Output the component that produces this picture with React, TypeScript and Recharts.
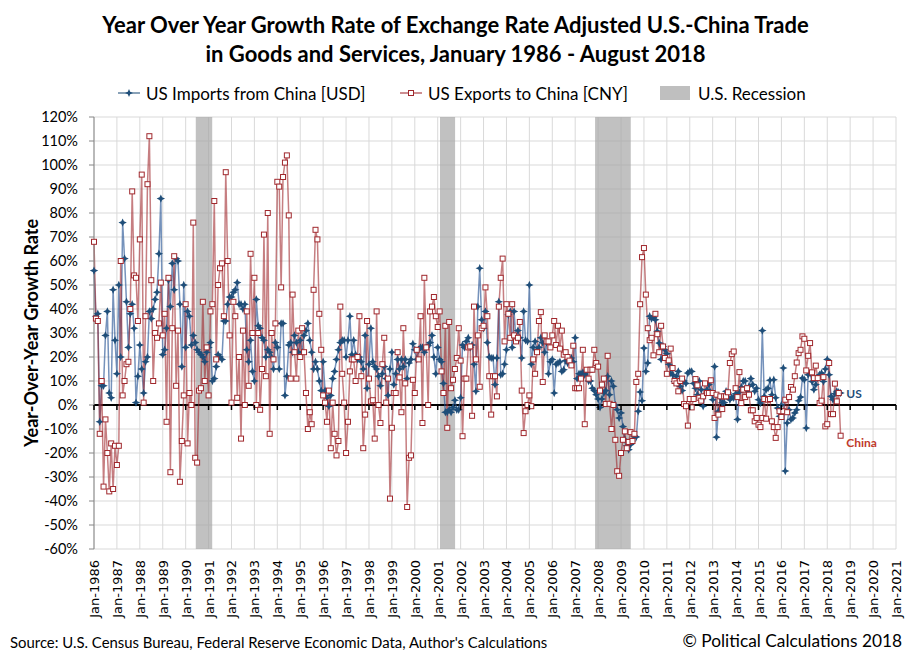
import React from 'react';
import {
  LineChart,
  Line,
  XAxis,
  YAxis,
  CartesianGrid,
  ReferenceArea,
  ReferenceLine,
  ReferenceDot,
} from 'recharts';

// page / plot geometry
const W = 911;
const H = 662;
const PLOT_TOP = 117;
const PLOT_BOTTOM = 549;
const PLOT_LEFT = 94;
const PLOT_RIGHT = 896;
const Y_MIN = -60;
const Y_MAX = 120;
const ZERO_Y = PLOT_TOP + ((PLOT_BOTTOM - PLOT_TOP) * Y_MAX) / (Y_MAX - Y_MIN);

const BLUE = '#1f4e79';
const RED = '#a0282d';

// x is a month index, 0 = Jan-1986
const xTicks = [
  0, 12, 24, 36, 48, 60, 72, 84, 96, 108, 120, 132, 144, 156, 168, 180, 192, 204,
  216, 228, 240, 252, 264, 276, 288, 300, 312, 324, 336, 348, 360, 372, 384, 396, 408, 420,
];
const xTickLabels = [
  'Jan-1986', 'Jan-1987', 'Jan-1988', 'Jan-1989', 'Jan-1990', 'Jan-1991', 'Jan-1992',
  'Jan-1993', 'Jan-1994', 'Jan-1995', 'Jan-1996', 'Jan-1997', 'Jan-1998', 'Jan-1999',
  'Jan-2000', 'Jan-2001', 'Jan-2002', 'Jan-2003', 'Jan-2004', 'Jan-2005', 'Jan-2006',
  'Jan-2007', 'Jan-2008', 'Jan-2009', 'Jan-2010', 'Jan-2011', 'Jan-2012', 'Jan-2013',
  'Jan-2014', 'Jan-2015', 'Jan-2016', 'Jan-2017', 'Jan-2018', 'Jan-2019', 'Jan-2020',
  'Jan-2021',
];
const yTicks = [-60, -50, -40, -30, -20, -10, 0, 10, 20, 30, 40, 50, 60, 70, 80, 90, 100, 110, 120];

// US imports from China [USD], YoY %, Jan 1986 - Aug 2018 (one row per year)
const importsUsd = [
  56, 37, 38, -7, 8, 8, 29, 39, 5, 3, 48, 27,
  13, 50, 20, 76, 61, 43, 24, 38, 42, 32, 1, 12,
  25, 15, 5, 18, 20, 39, 36, 40, 44, 47, 63, 86,
  21, 23, 32, 52, 41, 59, 48, 61, 60, 42, 16, 50,
  24, 39, 37, 25, 29, 26, 23, 22, 21, 20, 18, 22,
  24, 26, 10, 11, 16, 21, 20, 19, 35, 35, 42, 45,
  45, 47, 48, 51, 42, 42, 40, 42, 23, 18, 27, 14,
  10, 44, 33, 32, 28, 27, 20, 23, 22, 20, 15, 26,
  24, 15, 34, 34, 4, 12, 25, 26, 22, 29, 26, 22,
  27, 22, 29, 31, 34, 27, 22, 15, 18, 15, 10, 6,
  18, 6, 3, -0.5, 4, 11, 14, 19, 23, 26, 27, 27,
  20, 27, 37, 21, 27, 21, 19, 20, 18, 15, 29, 7,
  17, 32, 18, 16, 15, 12, 8, 13, 16, 11, 4, 15,
  22, 8.5, 13, 19, 15, 19, 16, 19, 11, 17.5, 19, 25.5,
  23, 19, 23, 24, 24, 22, 24, 24.7, 26, 29, 20, 13,
  24, 19, 18, 9, -3, -3, -2, -3, -1, 2, -2, -2,
  3, 25, 24, 26.5, 28, 24, 25, 17, 5.7, 41, 57, 35.5,
  32, 39, 26, 20, 19.6, 19.6, 8.5, 19.6, 43, 12.6, 13, 17,
  23, 37.6, 39, 24, 39, 27, 31, 28, 19.6, 39, 27, 26.5,
  50, 17, 24, 26.5, 23, 24, 28, 26, 22, 26, 13, 18,
  19, 5, 17, 17.5, 18, 14, 14.7, 18.5, 17.5, 19, 19.6, 18,
  28, 11, 13, 13, 13.6, 12.6, 13.6, 10, 10, 7, 6, 4.3,
  2.5, -1, 2.5, 5, 6, 12, 4.3, 10, 7.8, 0, -2, -5.4,
  -3.3, -9, -14.4, -17, -18.6, -16.5, -15, -13, -13.3, -2.6, 5.4, 1.8,
  23.7, 14, 17.5, 37, 36, 36.5, 35.5, 30.7, 25.8, 19, 24.4, 23,
  21.4, 17, 13.3, 12.6, 9.8, 12, 14, 7.8, 6, 10, 9, 13.3,
  14, 14, 9, 7, 4.3, 10, 6.4, -0.5, 4.3, 6.4, 8.5, 5.3,
  2.2, 16, -13.4, -2.6, 3, 1, 1, 5.7, 5.3, 2.2, 3.3, 3,
  4.7, -6, 5.3, 7.5, 10, 10, 5.7, 7.8, 11, 8.5, 5.7, 7,
  2.2, 0.8, 31, 3.6, 6.4, 7, 10.3, 4.3, 10.5, 3, -1.3, -4.7,
  0, 15.4, -27.5, -7.5, -2, -6, -5.4, -3.3, -2, 1.8, 3.3, 11.2,
  10.5, -9.6, 12.6, 13.3, 9.8, 6.4, 8.5, 11.2, 12.6, 13.3, 9.8, 15,
  19, 12.6, 3.6, 2.2, 4.7, 5.7, 5.3, 5,
];

// US exports to China [CNY], YoY %
const exportsCny = [
  68, 36, 35, -12, 10, -34, -6, -20, -36, -16, -35, -17,
  -25, -17, 60, 4, 10, 17, 18, 40, 89, 54, 53, 35,
  69, 96, 1, 37, 92, 112, 52, 10, 30, 28, 34, 51,
  29, 38, -7, 53, -28, 32, 62, 8, 31, -32, -15, 4,
  42, -16, 5, 0, 76, -22, -24, 6, 7, 43, 10, 24,
  4, 39, 42, 85, 19, 50, 57, 59, 37, 97, 60, 29,
  1, 43, 37, 3, 20, -14, 31, 0, 39, 8, 63, 30,
  53, 0, 30, -2, 15, 71, 12, 80, -12, 30, 19, 34,
  93, 91, 49, 95, 101, 104, 79, 11, 46, 22, 11, 31,
  20, 32, 22, 5, -10, -3, -8, 48, 73, 69, 38, 23,
  4, 1, -7, 6, -18, 1, -12, -21, -15, 41, 13, 1,
  -20, -7, 14, 19, 19, 10, 20, 37, 12, -18, -4, 35,
  11, 1.5, 2, -14, 39, 0, -7.5, 17, 28, 1, 11, -39,
  -9.5, 5, 5, 22, 11.5, -3, 32, 9, -42.5, -22, -21, 10.5,
  5, 23, 19, 37, -7.5, 53, 24, 0, 39, 41, 45, 37,
  32.5, 39, 14, 5, 33, -9.5, 34.6, 7, 10.5, 15, 19.6, 32,
  18.5, -13, 11, 11, 24, 24.4, -4.5, 41, 19, 29, 7.6, 32,
  33, 49, 37, 12, -4, 12, 12, 3.6, 41, 53, 61, 26.5,
  42, 38, 28, 42, 29, 26.5, 28, 34.6, 6, -11.7, -2.6, 0,
  4, -0.5, 19, 13, 22, 35, 38.7, 9.6, 29, 26.5, 26.5, 24,
  29, 35, 25, 33, 23.5, 31, 21, 22, 20, 18.5, 16.5, 24.7,
  7, 7, 7, 11, 23, -8, 14.7, 11, 14.7, 14.7, 23, 17.5,
  16, 6, 8.5, 11, 0.4, 20.5, 0.5, -10, 0, -14.5, -27.6, -29.5,
  -20, -14.5, -11, -18, -15.4, -11.3, -15, -12, 9.6, 13, 42, 61.6,
  65.4, 46, 32, 27, 28, 20.7, 38, 29.5, 22, 33, 24.4, 19.6,
  13, 18.6, 23.5, 15.4, 10, 9, 5.7, 10, 11, 0.4, -0.5, -8.6,
  2.5, -1, 2.5, 10.8, 8.2, 3, 1.8, 3.6, 9, 5, 5, 10.3,
  5, -5.4, 4.3, -4, 3.6, -1.7, 3.6, 3.6, 5.3, 17.5, 21.2, 22.3,
  7, 3.3, 13.7, 0.8, 6.4, 3.3, 7, 4.3, -2.2, -2.2, -6.8, -5.4,
  -8.2, -9.2, -5.4, 2.5, -5.7, 2.2, 2.5, -6.8, -9.2, -13.7, -9.2, -2.6,
  -5, -2.6, 2.2, -3, 3.3, 7.5, 6.4, 12, 17.7, 21.6, 23, 28.6,
  27.6, 14.4, 20.5, 25.8, 13.6, 11.2, 16.4, 11.2, 0.8, 1.8, 11.6, -8.9,
  -8, 17.5, -3.8, -3.8, 8.9, 1.5, 5, -12.8,
];

// U.S. recessions, as month index (start, end)
const recessionStart = [53.3, 181.2, 262.4];
const recessionEnd = [61.9, 189.1, 281.1];

const data = importsUsd.map((v, i) => ({ month: i, imports: v, exports: exportsCny[i] }));

const XTick = (props: any) => {
  const { x, index } = props;
  return (
    <g>
      <line x1={x} y1={ZERO_Y} x2={x} y2={ZERO_Y + 5} stroke="#000" strokeWidth={1.5} />
      <text
        transform={`translate(${x + 5},${PLOT_BOTTOM + 11}) rotate(-90)`}
        textAnchor="end"
        fontFamily="DejaVu Sans"
        fontSize={13}
        fill="#000"
      >
        {xTickLabels[index]}
      </text>
    </g>
  );
};

const StarDot = (props: any) => {
  const { cx, cy, index } = props;
  if (cx == null || cy == null) return null;
  const a = 4.2;
  const b = 1.3;
  const d = `M${cx},${cy - a}L${cx + b},${cy - b}L${cx + a},${cy}L${cx + b},${cy + b}L${cx},${cy + a}L${cx - b},${cy + b}L${cx - a},${cy}L${cx - b},${cy - b}Z`;
  return <path key={`s${index}`} d={d} fill={BLUE} />;
};

const SquareDot = (props: any) => {
  const { cx, cy, index } = props;
  if (cx == null || cy == null) return null;
  return (
    <rect key={`q${index}`} x={cx - 2.5} y={cy - 2.5} width={5} height={5} fill="#fff" stroke={RED} strokeWidth={1} />
  );
};

const EndLabel = (props: any) => {
  const { viewBox, text, color } = props;
  if (!viewBox) return null;
  return (
    <text x={viewBox.x} y={viewBox.y} dominantBaseline="central" fontFamily="Lato" fontWeight={700} fontSize={12} fill={color}>
      {text}
    </text>
  );
};

const Legend = () => (
  <svg width={W} height={24} style={{ position: 'absolute', left: 0, top: 81 }}>
    <line x1={118} y1={12} x2={140} y2={12} stroke={BLUE} strokeWidth={1.5} strokeOpacity={0.7} />
    <path d="M129,8L130.2,10.8L133,12L130.2,13.2L129,16L127.8,13.2L125,12L127.8,10.8Z" fill={BLUE} />
    <text x={146} y={12} dominantBaseline="central" fontFamily="Lato" fontSize={17}>
      US Imports from China [USD]
    </text>
    <line x1={400} y1={12} x2={422} y2={12} stroke={RED} strokeWidth={1.5} strokeOpacity={0.7} />
    <rect x={408.5} y={9.5} width={5} height={5} fill="#fff" stroke={RED} />
    <text x={428} y={12} dominantBaseline="central" fontFamily="Lato" fontSize={17}>
      US Exports to China [CNY]
    </text>
    <rect x={660} y={5} width={30} height={14} fill="#bfbfbf" />
    <text x={698} y={12} dominantBaseline="central" fontFamily="Lato" fontSize={17}>
      U.S. Recession
    </text>
  </svg>
);

export default function App() {
  return (
    <div style={{ position: 'absolute', left: 0, top: 0, width: W, height: H, background: '#fff', fontFamily: 'Lato' }}>
      <div style={{ position: 'absolute', left: 0, top: 10, width: W, textAlign: 'center', fontWeight: 700, fontSize: 22, lineHeight: '29px' }}>
        Year Over Year Growth Rate of Exchange Rate Adjusted U.S.-China Trade
        <br />
        in Goods and Services, January 1986 - August 2018
      </div>
      <Legend />
      <LineChart
        width={W}
        height={H}
        data={data}
        margin={{ top: PLOT_TOP, right: W - PLOT_RIGHT, bottom: 0, left: 0 }}
      >
        <CartesianGrid stroke="#d9d9d9" strokeWidth={1} />
        {recessionStart.map((s, i) => (
          <ReferenceArea key={i} x1={s} x2={recessionEnd[i]} fill="#a6a6a6" fillOpacity={0.7} stroke="none" />
        ))}
        <XAxis
          dataKey="month"
          type="number"
          domain={[0, 420]}
          ticks={xTicks}
          interval={0}
          height={H - PLOT_BOTTOM}
          axisLine={false}
          tickLine={false}
          tick={<XTick />}
        />
        <YAxis
          width={PLOT_LEFT}
          domain={[Y_MIN, Y_MAX]}
          ticks={yTicks}
          interval={0}
          tickFormatter={(v: number) => `${v}%`}
          axisLine={{ stroke: '#868686' }}
          tickLine={{ stroke: '#868686' }}
          tickSize={5}
          tickMargin={11}
          tick={{ fill: '#000', fontSize: 14.5, fontFamily: 'Lato' }}
        />
        <ReferenceLine y={0} stroke="#000" strokeWidth={2} />
        <Line
          dataKey="imports"
          type="linear"
          stroke="#2b5797"
          strokeOpacity={0.65}
          strokeWidth={1.5}
          dot={StarDot}
          isAnimationActive={false}
        />
        <Line
          dataKey="exports"
          type="linear"
          stroke={RED}
          strokeOpacity={0.6}
          strokeWidth={1.5}
          dot={SquareDot}
          isAnimationActive={false}
        />
        <ReferenceDot x={394} y={4.7} r={0} label={<EndLabel text="US" color={BLUE} />} />
        <ReferenceDot x={394} y={-15.7} r={0} label={<EndLabel text="China" color="#c0392b" />} />
      </LineChart>
      <div
        style={{
          position: 'absolute',
          left: 31,
          top: 333,
          transform: 'translate(-50%, -50%) rotate(-90deg)',
          whiteSpace: 'nowrap',
          fontWeight: 700,
          fontSize: 18,
        }}
      >
        Year-Over-Year Growth Rate
      </div>
      <div style={{ position: 'absolute', left: 10, top: 633, fontSize: 14.9, whiteSpace: 'nowrap' }}>
        Source: U.S. Census Bureau, Federal Reserve Economic Data, Author's Calculations
      </div>
      <div style={{ position: 'absolute', right: 9, top: 630, fontSize: 17.3, whiteSpace: 'nowrap' }}>
        © Political Calculations 2018
      </div>
    </div>
  );
}
